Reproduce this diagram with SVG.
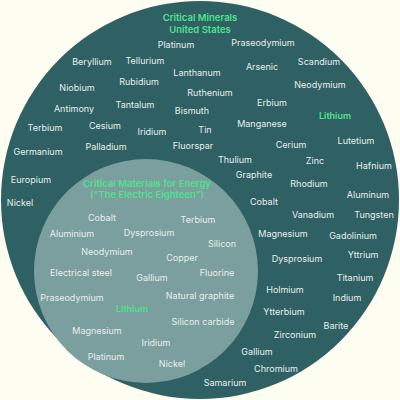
<svg xmlns="http://www.w3.org/2000/svg" width="400" height="400" viewBox="0 0 400 400">
<style>
text{font-family:Inter,"Noto Sans","DejaVu Sans",sans-serif;font-size:9px;fill:#e6efed;text-anchor:middle;dominant-baseline:central}
.t{font-weight:600;fill:#4ee38c;font-size:9.5px}
.g{font-weight:600;fill:#4ee38c}
</style>
<rect width="400" height="400" fill="#fdfdf1"/>
<g id="us">
<circle cx="200" cy="200" r="199" fill="#2e6064"/>
<text class="t" x="200" y="17">Critical Minerals</text>
<text class="t" x="200" y="29">United States</text>
<text x="176" y="44">Platinum</text>
<text x="263" y="42">Praseodymium</text>
<text x="92" y="61">Beryllium</text>
<text x="145" y="60">Tellurium</text>
<text x="262" y="66">Arsenic</text>
<text x="319" y="61">Scandium</text>
<text x="197" y="72">Lanthanum</text>
<text x="77" y="87">Niobium</text>
<text x="139" y="81">Rubidium</text>
<text x="320" y="84">Neodymium</text>
<text x="210" y="92">Ruthenium</text>
<text x="74" y="108">Antimony</text>
<text x="135" y="104">Tantalum</text>
<text x="272" y="102">Erbium</text>
<text x="192" y="110">Bismuth</text>
<text class="g" x="335" y="115">Lithium</text>
<text x="45" y="127">Terbium</text>
<text x="105" y="125">Cesium</text>
<text x="152" y="131">Iridium</text>
<text x="205" y="129">Tin</text>
<text x="262" y="123">Manganese</text>
<text x="38" y="151">Germanium</text>
<text x="106" y="146">Palladium</text>
<text x="193" y="145">Fluorspar</text>
<text x="291" y="144">Cerium</text>
<text x="356" y="140">Lutetium</text>
<text x="235" y="159">Thulium</text>
<text x="315" y="160">Zinc</text>
<text x="374" y="165">Hafnium</text>
<text x="254" y="174">Graphite</text>
<text x="309" y="183">Rhodium</text>
<text x="31" y="179">Europium</text>
<text x="368" y="194">Aluminum</text>
<text x="20" y="202">Nickel</text>
<text x="264" y="201">Cobalt</text>
<text x="313" y="214">Vanadium</text>
<text x="374" y="214">Tungsten</text>
<text x="283" y="233">Magnesium</text>
<text x="353" y="235">Gadolinium</text>
<text x="297" y="258">Dysprosium</text>
<text x="363" y="254">Yttrium</text>
<text x="355" y="277">Titanium</text>
<text x="285" y="289">Holmium</text>
<text x="347" y="297">Indium</text>
<text x="284" y="311">Ytterbium</text>
<text x="336" y="325">Barite</text>
<text x="295" y="334">Zirconium</text>
<text x="257" y="351">Gallium</text>
<text x="276" y="368">Chromium</text>
<text x="225" y="382">Samarium</text>
</g>
<g id="energy">
<circle cx="146" cy="271" r="112" fill="#7b9e9f"/>
<text class="t" x="147" y="183">Critical Materials for Energy</text>
<text class="t" x="147" y="194">(“The Electric Eighteen”)</text>
<text x="102" y="217">Cobalt</text>
<text x="198" y="219">Terbium</text>
<text x="72" y="233">Aluminium</text>
<text x="149" y="232">Dysprosium</text>
<text x="222" y="243">Silicon</text>
<text x="107" y="251">Neodymium</text>
<text x="182" y="257">Copper</text>
<text x="81" y="272">Electrical steel</text>
<text x="152" y="277">Gallium</text>
<text x="217" y="272">Fluorine</text>
<text x="72" y="297">Praseodymium</text>
<text x="200" y="295">Natural graphite</text>
<text class="g" x="132" y="308">Lithium</text>
<text x="203" y="321">Silicon carbide</text>
<text x="97" y="330">Magnesium</text>
<text x="156" y="342">Iridium</text>
<text x="106" y="356">Platinum</text>
<text x="172" y="363">Nickel</text>
</g>
</svg>
